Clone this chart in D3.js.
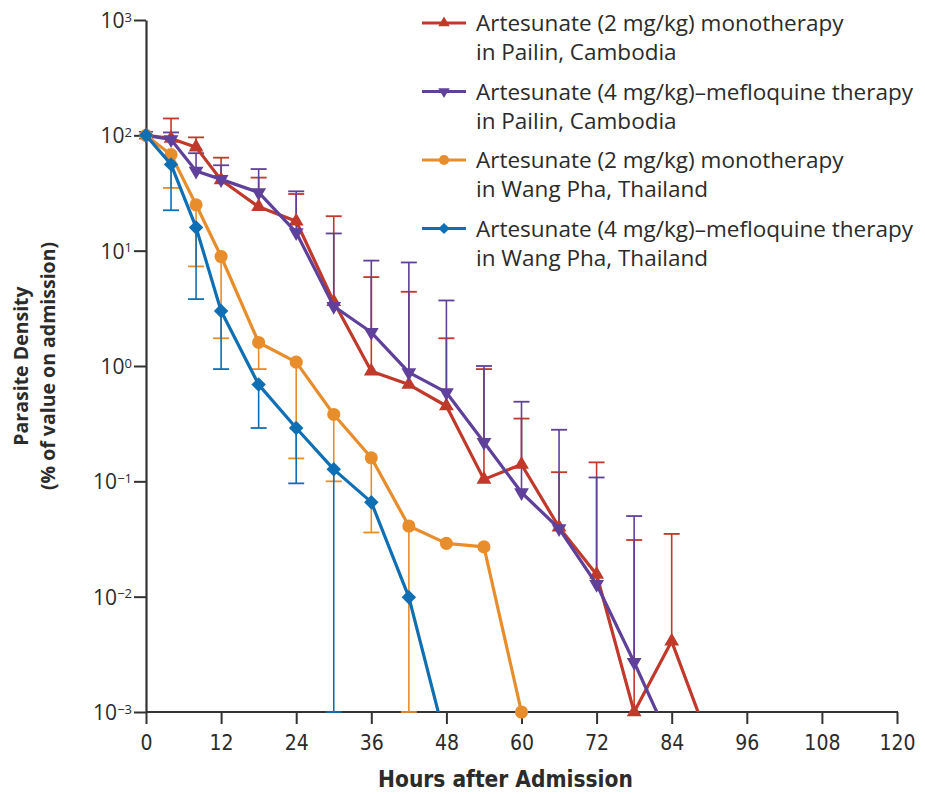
<!DOCTYPE html>
<html>
<head>
<meta charset="utf-8">
<script src="https://cdn.jsdelivr.net/npm/d3@7"></script>
<style>
  body { margin: 0; background: #fff; }
  text { fill: #2b2b2b; }
</style>
</head>
<body>
<div id="my_dataviz"></div>
<script>
// values (% of value on admission)
const redHours = [0, 4, 8, 12, 18, 24, 30, 36, 42, 48, 54, 60, 66, 72, 78, 84, 90];
const redValues = [100, 94, 79, 41, 24, 18, 3.6, 0.9, 0.69, 0.45, 0.104, 0.14, 0.040, 0.0156, 0.001, 0.0041, 0.00055];
const redUpper = [null, 140, 96, 64, 43, 31, 19.9, 5.9, 4.4, 1.74, 0.94, 0.35, 0.12, 0.146, 0.031, 0.035, null];

const purpleHours = [0, 4, 8, 12, 18, 24, 30, 36, 42, 48, 54, 60, 66, 72, 78, 84];
const purpleValues = [100, 92, 49, 41.5, 32, 14.4, 3.3, 1.96, 0.88, 0.59, 0.218, 0.080, 0.039, 0.0128, 0.0027, 0.00052];
const purpleUpper = [null, 106, 70, 55, 51, 32.7, 14.1, 8.2, 7.9, 3.7, 1.0, 0.49, 0.28, 0.108, 0.050, null];

const orangeHours = [0, 4, 8, 12, 18, 24, 30, 36, 42, 48, 54, 60];
const orangeValues = [100, 68, 25, 8.9, 1.6, 1.08, 0.38, 0.16, 0.041, 0.029, 0.027, 0.001];
const orangeLower = [null, 35, 7.3, 1.74, 0.94, 0.158, 0.10, 0.036, 0.001, null, null, null];

const blueHours = [0, 4, 8, 12, 18, 24, 30, 36, 42, 48];
const blueValues = [100, 56, 15.9, 3.0, 0.69, 0.29, 0.127, 0.066, 0.0099, 0.00053];
const blueLower = [null, 22.4, 3.8, 0.94, 0.29, 0.096, 0.001, null, null, null];

const xTicks = [0, 12, 24, 36, 48, 60, 72, 84, 96, 108, 120];
const yTicks = [1e-3, 1e-2, 1e-1, 1e0, 1e1, 1e2, 1e3];

const legendLabels = [
  ["Artesunate (2 mg/kg) monotherapy", "in Pailin, Cambodia"],
  ["Artesunate (4 mg/kg)\u2013mefloquine therapy", "in Pailin, Cambodia"],
  ["Artesunate (2 mg/kg) monotherapy", "in Wang Pha, Thailand"],
  ["Artesunate (4 mg/kg)\u2013mefloquine therapy", "in Wang Pha, Thailand"]
];

// set the dimensions and margins of the graph
const margin = {top: 20, right: 28, bottom: 82, left: 146},
      width = 925 - margin.left - margin.right,
      height = 794 - margin.top - margin.bottom;

const svg = d3.select("#my_dataviz")
  .append("svg")
  .attr("width", 925)
  .attr("height", 794)
  .append("g")
  .attr("transform", `translate(${margin.left}, ${margin.top})`);

const x = d3.scaleLinear().domain([0, 120]).range([0, width]);
const y = d3.scaleLog().domain([1e-3, 1e3]).range([height, 0]);

const tickFont = "'Liberation Sans Narrow', 'DejaVu Sans Condensed', 'Open Sans', sans-serif";
const textFont = "'Open Sans', 'Noto Sans', sans-serif";

// series setup
const series = [
  {name: "red", color: "#c0392b", hours: redHours, values: redValues, err: redUpper, shape: "up"},
  {name: "purple", color: "#5f419b", hours: purpleHours, values: purpleValues, err: purpleUpper, shape: "down"},
  {name: "orange", color: "#e88d2c", hours: orangeHours, values: orangeValues, err: orangeLower, shape: "circle"},
  {name: "blue", color: "#0f6fb5", hours: blueHours, values: blueValues, err: blueLower, shape: "diamond"}
];

function symbolPath(shape, scale) {
  if (shape === "circle") return d3.symbol(d3.symbolCircle, 135 * scale)();
  if (shape === "diamond") return d3.symbol(d3.symbolSquare, 105 * scale)();
  return d3.symbol(d3.symbolTriangle, 95 * scale)();
}
function symbolRotate(shape) {
  if (shape === "down") return 180;
  if (shape === "diamond") return 45;
  return 0;
}

// clip lines to the plot area
svg.append("clipPath").attr("id", "plotclip")
  .append("rect").attr("x", -10).attr("y", -10).attr("width", width + 20).attr("height", height + 10);

// axes
const xAxis = svg.append("g")
  .attr("transform", `translate(0, ${height})`)
  .call(d3.axisBottom(x).tickValues(xTicks).tickSize(12).tickSizeOuter(0).tickPadding(11));
xAxis.select(".domain").attr("stroke", "#333").attr("stroke-width", 2.2).attr("d", `M0,0H${x(120) + 1}`);
xAxis.selectAll(".tick line").attr("stroke", "#333").attr("stroke-width", 2);
xAxis.selectAll(".tick text").style("font-family", tickFont).style("font-size", "21px").attr("fill", "#2b2b2b");

const yAxis = svg.append("g")
  .call(d3.axisLeft(y).tickValues(yTicks).tickSize(12).tickSizeOuter(0).tickFormat(""));
yAxis.select(".domain").attr("stroke", "#333").attr("stroke-width", 2.2);
yAxis.selectAll(".tick line").attr("stroke", "#333").attr("stroke-width", 2);
const yLabels = yAxis.selectAll(".tick text")
  .attr("x", -14)
  .attr("dy", "0.36em")
  .style("font-family", textFont)
  .style("font-size", "21px")
  .attr("fill", "#2b2b2b");
yLabels.each(function(d) {
  const t = d3.select(this);
  t.append("tspan").text("10");
  t.append("tspan").attr("dy", "-0.5em").style("font-size", "13px")
    .text(String(Math.round(Math.log10(d))).replace("-", "\u2212"));
});

// error bars
series.forEach(function(s) {
  const g = svg.append("g").attr("class", "err-" + s.name);
  const pts = s.hours.map(function(h, i) { return {h: h, v: s.values[i], e: s.err[i]}; })
    .filter(function(d) { return d.e !== null; });
  g.selectAll("line.bar").data(pts).enter().append("line")
    .attr("x1", function(d) { return x(d.h); })
    .attr("x2", function(d) { return x(d.h); })
    .attr("y1", function(d) { return y(d.v); })
    .attr("y2", function(d) { return y(d.e); })
    .attr("stroke", s.color).attr("stroke-width", 1.6);
  g.selectAll("line.cap").data(pts).enter().append("line")
    .attr("x1", function(d) { return x(d.h) - 8; })
    .attr("x2", function(d) { return x(d.h) + 8; })
    .attr("y1", function(d) { return y(d.e); })
    .attr("y2", function(d) { return y(d.e); })
    .attr("stroke", s.color).attr("stroke-width", 1.8);
});

// lines and markers
series.forEach(function(s) {
  const pts = s.hours.map(function(h, i) { return {h: h, v: s.values[i]}; });
  svg.append("path")
    .datum(pts)
    .attr("clip-path", "url(#plotclip)")
    .attr("fill", "none")
    .attr("stroke", s.color)
    .attr("stroke-width", 3.2)
    .attr("stroke-linejoin", "round")
    .attr("d", d3.line().x(function(d) { return x(d.h); }).y(function(d) { return y(d.v); }));

  svg.append("g").selectAll("path")
    .data(pts.filter(function(d) { return d.v >= 1e-3; }))
    .enter().append("path")
    .attr("d", symbolPath(s.shape, 1))
    .attr("transform", function(d) {
      return `translate(${x(d.h)}, ${y(d.v)}) rotate(${symbolRotate(s.shape)})`;
    })
    .attr("fill", s.color);
});

// axis titles
svg.append("text")
  .attr("text-anchor", "middle")
  .attr("x", width / 2 - 16)
  .attr("y", height + 75)
  .style("font-family", tickFont)
  .style("font-weight", "bold")
  .style("font-size", "22.5px")
  .text("Hours after Admission");

const yTitle = svg.append("text")
  .attr("text-anchor", "middle")
  .attr("transform", `translate(${-margin.left + 28}, ${y(1)}) rotate(-90)`)
  .style("font-family", textFont)
  .style("font-weight", "bold")
  .style("font-size", "19.5px");
yTitle.append("tspan").attr("x", 0).attr("y", 0).text("Parasite Density");
yTitle.append("tspan").attr("x", 0).attr("y", 27).text("(% of value on admission)");

// legend
const legend = svg.append("g").attr("transform", `translate(${-margin.left}, ${-margin.top})`);
const items = legend.selectAll("g.item").data(series).enter().append("g")
  .attr("transform", function(d, i) { return `translate(0, ${23 + i * 68.5})`; });
items.append("line")
  .attr("x1", 422).attr("x2", 466).attr("y1", 0).attr("y2", 0)
  .attr("stroke", function(d) { return d.color; }).attr("stroke-width", 3);
items.append("path")
  .attr("d", function(d) { return symbolPath(d.shape, 0.6); })
  .attr("transform", function(d) { return `translate(444, 0) rotate(${symbolRotate(d.shape)})`; })
  .attr("fill", function(d) { return d.color; });
const ltext = items.append("text")
  .style("font-family", textFont)
  .style("font-size", "22.5px");
ltext.append("tspan").attr("x", 476).attr("y", 8)
  .text(function(d, i) { return legendLabels[i][0]; });
ltext.append("tspan").attr("x", 476).attr("y", 37)
  .text(function(d, i) { return legendLabels[i][1]; });
</script>
</body>
</html>
